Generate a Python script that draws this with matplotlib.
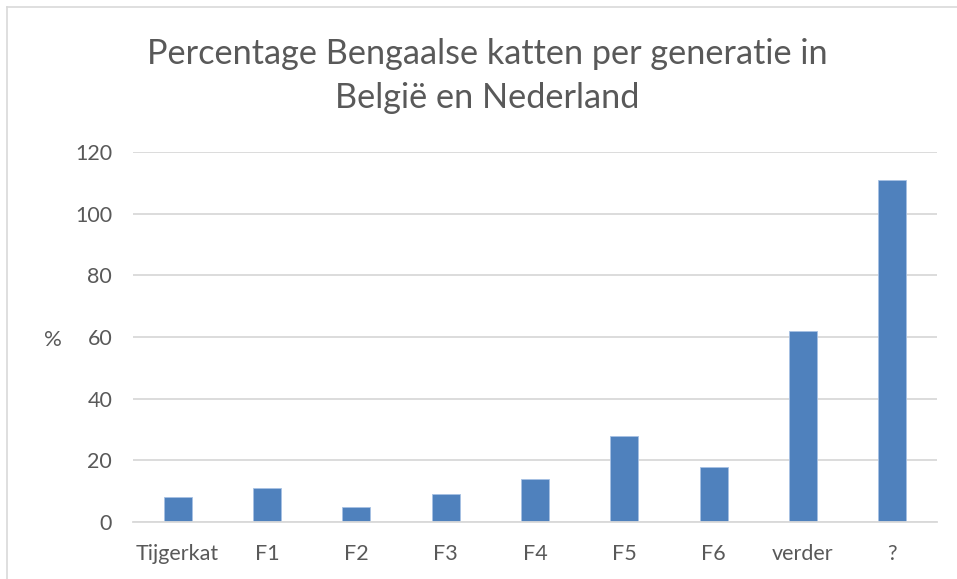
import matplotlib
matplotlib.use("Agg")
import matplotlib.pyplot as plt
from matplotlib.lines import Line2D

categories = ["Tijgerkat", "F1", "F2", "F3", "F4", "F5", "F6", "verder", "?"]
values = [8, 11, 5, 9, 14, 28, 18, 62, 111]
yticks = [0, 20, 40, 60, 80, 100, 120]
title_lines = ["Percentage Bengaalse katten per generatie in", "België en Nederland"]

plt.rcParams['font.family'] = ['Lato', 'DejaVu Sans']

W, H = 957, 579
fig = plt.figure(figsize=(W / 100, H / 100), dpi=100)
ax = fig.add_axes([133 / W, 1 - 522 / H, (937 - 133) / W, (522 - 152) / H])

x = range(len(categories))
ax.bar(x, values, width=0.313, color="#4F81BD", edgecolor="#A7C1E3", linewidth=0.6, zorder=3)
ax.set_xlim(-0.5, len(categories) - 0.5)
ax.set_ylim(0, 120)
ax.set_yticks(yticks)
ax.set_xticks(list(x))
ax.set_xticklabels(categories)
ax.grid(axis="y", color="#D9D9D9", linewidth=1.3, zorder=0)
ax.tick_params(axis="both", length=0, labelsize=15.5, colors="#595959")
ax.tick_params(axis="y", pad=15)
ax.tick_params(axis="x", pad=16)
for s in ["top", "right", "left"]:
    ax.spines[s].set_visible(False)
ax.spines["bottom"].set_color("#D9D9D9")
ax.spines["bottom"].set_linewidth(1.3)
ax.spines["bottom"].set_zorder(4)

fig.text(53 / W, 1 - 340 / H, "%", ha="center", va="center", fontsize=16, color="#595959")
fig.text(487 / W, 1 - 64 / H, title_lines[0], ha="center", va="baseline", fontsize=24.7, color="#595959")
fig.text(487 / W, 1 - 108 / H, title_lines[1], ha="center", va="baseline", fontsize=24.7, color="#595959")

# chart-area frame (top and left edges visible; right/bottom cropped off)
fig.lines.append(Line2D([6.5 / W, 1.0], [1 - 7 / H, 1 - 7 / H], transform=fig.transFigure,
                        color="#D9D9D9", linewidth=1.2))
fig.lines.append(Line2D([6.5 / W, 6.5 / W], [1 - 7 / H, 0.0], transform=fig.transFigure,
                        color="#D9D9D9", linewidth=1.2))

fig.savefig("out.png", dpi=100, facecolor="white")
